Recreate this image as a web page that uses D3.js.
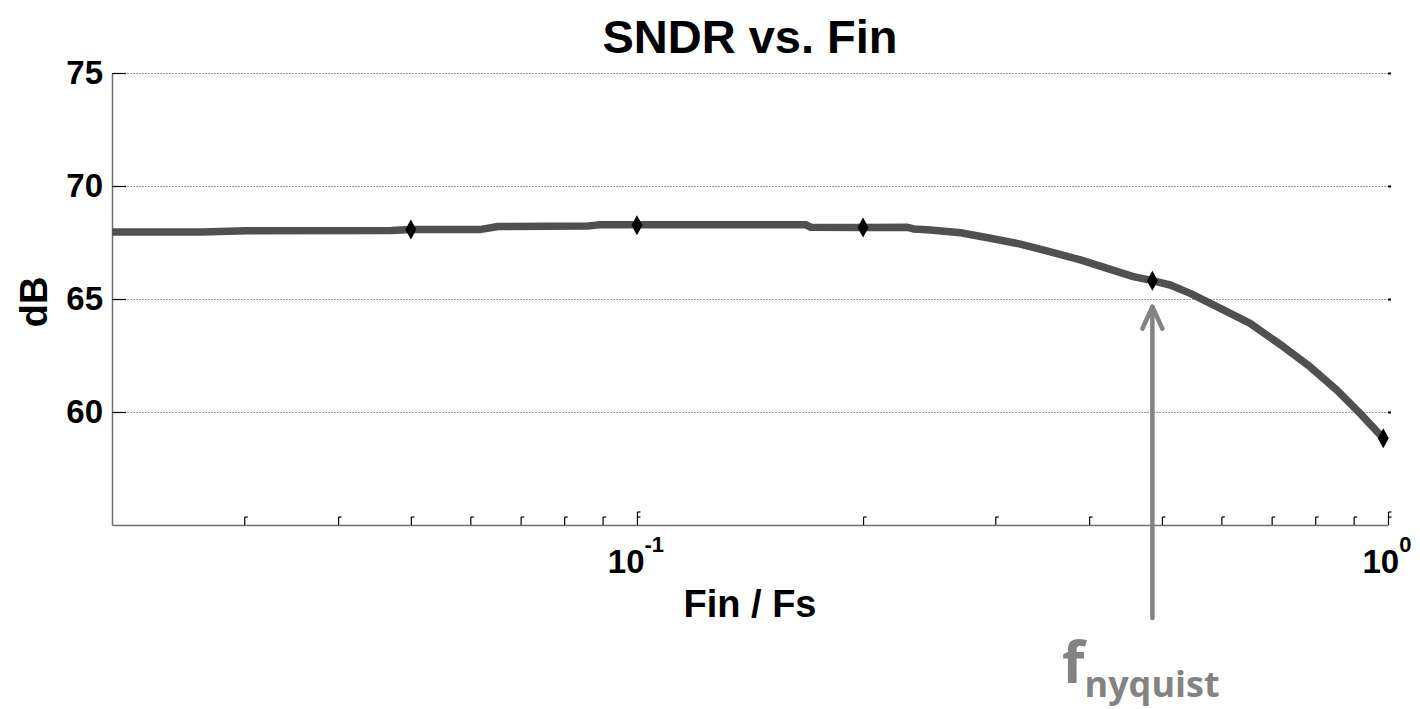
<!DOCTYPE html>
<html>
<head>
<meta charset="utf-8">
<script src="https://cdn.jsdelivr.net/npm/d3@7"></script>
<style>
  html, body { margin: 0; padding: 0; background: #fff; }
  svg { display: block; }
  text { font-family: "Liberation Sans", Arial, sans-serif; font-weight: bold; }
</style>
</head>
<body>
<svg id="chart" width="1420" height="709"></svg>
<script>
// ---- data ----
const finValues  = [0.02, 0.0263, 0.0302, 0.0471, 0.05, 0.062, 0.0653, 0.0861, 0.0888, 0.1679, 0.1705, 0.2, 0.2292, 0.2335, 0.246, 0.2698, 0.2956, 0.324, 0.3553, 0.3895, 0.4269, 0.458, 0.4856, 0.5129, 0.5453, 0.5918, 0.6553, 0.7256, 0.7876, 0.8549, 0.918, 0.9856];
const sndrValues = [67.96, 67.96, 68.02, 68.03, 68.07, 68.08, 68.21, 68.23, 68.28, 68.28, 68.17, 68.16, 68.17, 68.1, 68.05, 67.93, 67.69, 67.43, 67.09, 66.73, 66.31, 65.99, 65.81, 65.62, 65.25, 64.66, 63.92, 62.89, 62.0, 60.97, 59.94, 58.84];
const markerFin  = [0.05, 0.1, 0.2, 0.4856, 0.9856];
const markerSndr = [68.07, 68.26, 68.16, 65.81, 58.84];
const yTicks = [60, 65, 70, 75];
const xMinorTicks = [0.03, 0.04, 0.05, 0.06, 0.07, 0.08, 0.09, 0.2, 0.3, 0.4, 0.5, 0.6, 0.7, 0.8, 0.9];
const xMajorTicks = [0.1, 1];
const xMajorLabels = [{base: "10", exp: "-1"}, {base: "10", exp: "0"}];
const nyquistFin = 0.4856;

// ---- layout ----
const svg = d3.select("#chart");
const L = 112, R = 1388, T = 73, B = 525;
const x = d3.scaleLog().domain([0.02, 1]).range([L, R]);
const y = d3.scaleLinear().domain([55, 75]).range([B, T]);

// grid lines
const grid = svg.append("g").attr("transform", `translate(${L},0)`)
  .call(d3.axisLeft(y).tickValues(yTicks).tickSize(-(R - L)).tickFormat(""));
grid.select(".domain").remove();
grid.selectAll(".tick line").attr("stroke", "#9a9a9a").attr("stroke-width", 1).attr("stroke-dasharray", "2,1");

// right side small ticks
const rAx = svg.append("g").attr("transform", `translate(${R},0)`)
  .call(d3.axisRight(y).tickValues(yTicks).tickSize(3).tickFormat(""));
rAx.select(".domain").remove();
rAx.selectAll(".tick line").attr("stroke", "#000").attr("stroke-width", 2);

// left axis
const yAx = svg.append("g").attr("transform", `translate(${L},0)`)
  .call(d3.axisLeft(y).tickValues(yTicks).tickSizeInner(-14).tickSizeOuter(0).tickPadding(9));
yAx.select(".domain").attr("stroke", "#707070").attr("stroke-width", 1.5);
yAx.selectAll(".tick line").attr("stroke", "#000").attr("stroke-width", 1.2);
yAx.selectAll(".tick text").attr("font-size", 33).attr("fill", "#000")
  .style("font-family", "'Liberation Sans', Arial, sans-serif").style("font-weight", "bold");

// bottom axis (minor ticks)
const xAx = svg.append("g").attr("transform", `translate(0,${B})`)
  .call(d3.axisBottom(x).tickValues(xMinorTicks).tickSizeInner(-8).tickSizeOuter(0).tickFormat(""));
xAx.select(".domain").attr("stroke", "#707070").attr("stroke-width", 1.5);
xAx.selectAll(".tick line").attr("stroke", "#000").attr("stroke-width", 1.2);
xAx.selectAll(".tick").append("line")
  .attr("x1", 0).attr("x2", 3).attr("y1", -8).attr("y2", -8)
  .attr("stroke", "#000").attr("stroke-width", 1.2);

// major ticks
const xMaj = svg.append("g").attr("transform", `translate(0,${B})`)
  .call(d3.axisBottom(x).tickValues(xMajorTicks).tickSizeInner(-13).tickSizeOuter(0).tickFormat(""));
xMaj.select(".domain").remove();
xMaj.selectAll(".tick line").attr("stroke", "#000").attr("stroke-width", 1.2);
xMaj.selectAll(".tick").append("line")
  .attr("x1", 0).attr("x2", 3).attr("y1", -13).attr("y2", -13).attr("stroke", "#000").attr("stroke-width", 1.2);
xMaj.selectAll(".tick").append("line")
  .attr("x1", 0).attr("x2", 3).attr("y1", -8).attr("y2", -8).attr("stroke", "#000").attr("stroke-width", 1.2);

// major tick labels with superscripts
xMajorTicks.forEach((v, i) => {
  const t = svg.append("text")
    .attr("x", x(v) - 1).attr("y", 573)
    .attr("text-anchor", "middle").attr("font-size", 33).attr("fill", "#000");
  t.append("tspan").text(xMajorLabels[i].base);
  t.append("tspan").attr("font-size", 22).attr("dy", -21).text(xMajorLabels[i].exp);
});

// data line
const line = d3.line().x((d, i) => x(finValues[i])).y((d, i) => y(sndrValues[i]));
svg.append("path").datum(sndrValues)
  .attr("d", line)
  .attr("fill", "none").attr("stroke", "#505050").attr("stroke-width", 7.5)
  .attr("stroke-linejoin", "round");

// markers
const diamond = (cx, cy) => `M${cx},${cy - 10}L${cx + 5.5},${cy}L${cx},${cy + 10}L${cx - 5.5},${cy}Z`;
svg.append("g").selectAll("path").data(markerFin).join("path")
  .attr("d", (d, i) => diamond(x(d), y(markerSndr[i])))
  .attr("fill", "#000");

// title & labels
svg.append("text").attr("x", (L + R) / 2).attr("y", 53).attr("text-anchor", "middle")
  .attr("font-size", 47).attr("fill", "#000").text("SNDR vs. Fin");
svg.append("text").attr("x", (L + R) / 2).attr("y", 617).attr("text-anchor", "middle")
  .attr("font-size", 38).attr("fill", "#000").text("Fin / Fs");
svg.append("text").attr("transform", `translate(47,${(T + B) / 2 + 3}) rotate(-90)`)
  .attr("text-anchor", "middle").attr("font-size", 38).attr("fill", "#000").text("dB");

// nyquist annotation arrow
const ax = x(nyquistFin);
const tipY = y(markerSndr[3]) + 26;
const arrow = svg.append("g").attr("stroke", "#838383").attr("stroke-width", 4.5)
  .attr("fill", "none").attr("stroke-linecap", "round");
arrow.append("line").attr("x1", ax).attr("x2", ax).attr("y1", tipY).attr("y2", 618);
arrow.append("polyline").attr("points", `${ax - 10},${tipY + 22} ${ax},${tipY} ${ax + 10},${tipY + 22}`)
  .attr("stroke-linejoin", "round");

const nt = svg.append("text").attr("x", 1062).attr("y", 683).attr("fill", "#838383")
  .style("font-family", "'Open Sans', sans-serif").style("font-weight", "bold");
nt.append("tspan").attr("font-size", 58).text("f");
nt.append("tspan").attr("font-size", 36).attr("dy", 14).text("nyquist");
</script>
</body>
</html>
